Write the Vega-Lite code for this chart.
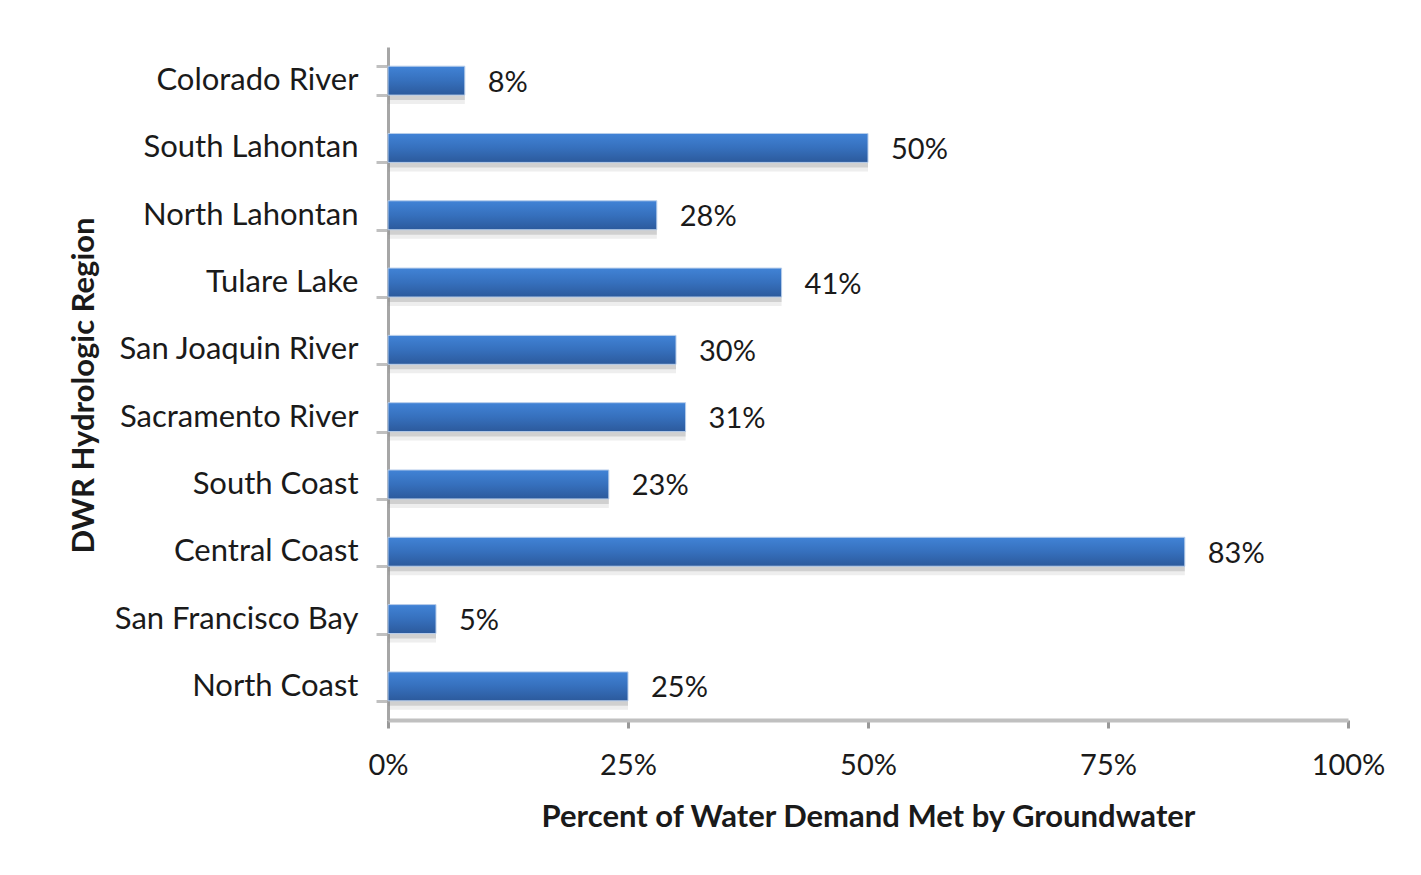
{
  "$schema": "https://vega.github.io/schema/vega-lite/v6.json",
  "width": 960,
  "height": 673,
  "autosize": {"type": "none"},
  "padding": {"left": 388, "top": 47, "right": 73, "bottom": 155},
  "background": "white",
  "config": {
    "view": {"stroke": null},
    "font": "Lato",
    "axis": {"grid": false, "labelFont": "Lato", "titleFont": "Lato", "labelColor": "#1a1a1a", "titleColor": "#1a1a1a"}
  },
  "data": {
    "values": [
      {"region": "Colorado River", "share": 0.08},
      {"region": "South Lahontan", "share": 0.50},
      {"region": "North Lahontan", "share": 0.28},
      {"region": "Tulare Lake", "share": 0.41},
      {"region": "San Joaquin River", "share": 0.30},
      {"region": "Sacramento River", "share": 0.31},
      {"region": "South Coast", "share": 0.23},
      {"region": "Central Coast", "share": 0.83},
      {"region": "San Francisco Bay", "share": 0.05},
      {"region": "North Coast", "share": 0.25}
    ]
  },
  "encoding": {
    "y": {
      "field": "region",
      "type": "nominal",
      "sort": null,
      "scale": {"paddingInner": 0.57, "paddingOuter": 0.285},
      "axis": {
        "title": "DWR Hydrologic Region",
        "titleFontSize": 31,
        "titleFontWeight": "bold",
        "titleAngle": -90,
        "titleAlign": "center",
        "titleBaseline": "middle",
        "titleX": -304,
        "titleY": 338,
        "labelFontSize": 31,
        "labelLimit": 400,
        "labelPadding": 18,
        "tickBand": "extent",
        "tickSize": 12,
        "tickWidth": 3,
        "tickColor": "#c0c0c0",
        "domainColor": "#a6a6a6",
        "domainWidth": 3
      }
    }
  },
  "layer": [
    {
      "mark": {"type": "bar", "color": "#8c8c8c", "opacity": 0.15, "yOffset": 9, "x2Offset": 6},
      "encoding": {
        "x": {"field": "share", "type": "quantitative"}
      }
    },
    {
      "mark": {"type": "bar", "color": "#8c8c8c", "opacity": 0.3, "yOffset": 5, "x2Offset": 3},
      "encoding": {
        "x": {"field": "share", "type": "quantitative"}
      }
    },
    {
      "mark": {
        "type": "bar",
        "stroke": "#b7cdea",
        "strokeWidth": 1,
        "color": {
          "gradient": "linear",
          "x1": 0, "y1": 0, "x2": 0, "y2": 1,
          "stops": [
            {"offset": 0, "color": "#4183d6"},
            {"offset": 0.5, "color": "#3670bd"},
            {"offset": 1, "color": "#2c5a9c"}
          ]
        }
      },
      "encoding": {
        "x": {
          "field": "share",
          "type": "quantitative",
          "scale": {"domain": [0, 1], "nice": false},
          "axis": {
            "title": "Percent of Water Demand Met by Groundwater",
            "titleFontSize": 31,
            "titleFontWeight": "bold",
            "titlePadding": 22,
            "values": [0, 0.25, 0.5, 0.75, 1],
            "format": ".0%",
            "labelFontSize": 29,
            "labelFlush": false,
            "labelPadding": 23,
            "tickSize": 8,
            "tickWidth": 3,
            "tickColor": "#999999",
            "domainColor": "#c0c0c0",
            "domainWidth": 4
          }
        }
      }
    },
    {
      "mark": {"type": "text", "align": "left", "baseline": "middle", "dx": 23, "dy": 2, "fontSize": 29, "color": "#1a1a1a"},
      "encoding": {
        "x": {"field": "share", "type": "quantitative"},
        "text": {"field": "share", "type": "quantitative", "format": ".0%"}
      }
    }
  ]
}
